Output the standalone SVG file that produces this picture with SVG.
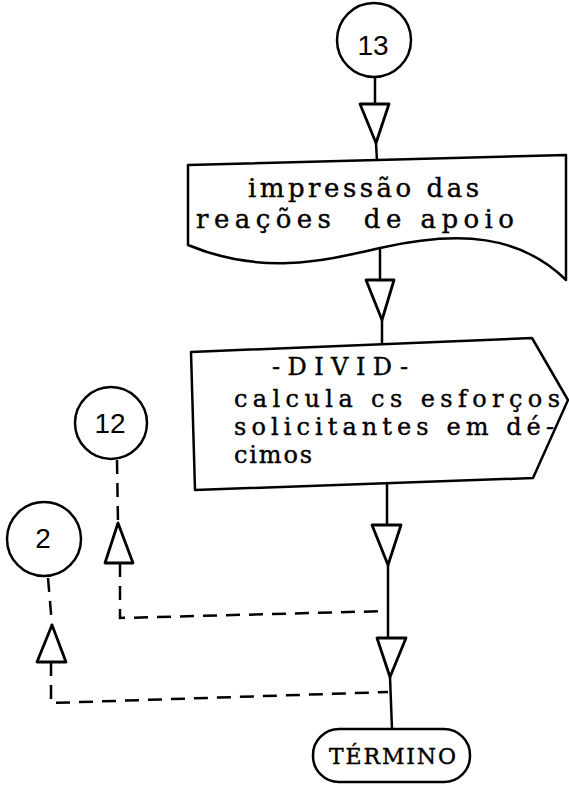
<svg xmlns="http://www.w3.org/2000/svg" width="569" height="785" viewBox="0 0 569 785">
<style>
.shape{fill:none;stroke:#000;stroke-width:2.5;stroke-linejoin:round}
.ln{fill:none;stroke:#000;stroke-width:2.5}
.dash{fill:none;stroke:#000;stroke-width:2.5;stroke-dasharray:14 9}
.arr{fill:#fff;stroke:#000;stroke-width:2.8;stroke-linejoin:round}
.t{font-family:"DejaVu Serif","Liberation Serif",serif;font-size:26px;fill:#000;stroke:#000;stroke-width:0.4}
.s{font-size:24px}
.n{font-family:"Liberation Sans",Arial,sans-serif;font-size:28px;fill:#000;text-anchor:middle}
</style>
<g id="connectors">
<line class="ln" x1="375" y1="77" x2="375" y2="104"/>
<line class="ln" x1="376" y1="143" x2="377" y2="161"/>
<line class="ln" x1="380" y1="249" x2="380" y2="280"/>
<line class="ln" x1="382" y1="320" x2="382" y2="344"/>
<line class="ln" x1="387" y1="483" x2="387" y2="525"/>
<line class="ln" x1="388" y1="565" x2="388" y2="638"/>
<line class="ln" x1="390" y1="677" x2="392" y2="729"/>
<polyline class="dash" points="117,460 118,523"/>
<polyline class="dash" points="120,563 120,618 388,611"/>
<polyline class="dash" points="48,578 52,625"/>
<polyline class="dash" points="51,662 51,703 388,692"/>
<polygon class="arr" points="360,104 389,104 376,143"/>
<polygon class="arr" points="366,280 394,280 382,320"/>
<polygon class="arr" points="372,525 401,525 388,565"/>
<polygon class="arr" points="377,638 406,638 390,677"/>
<polygon class="arr" points="118,523 105,563 133,563"/>
<polygon class="arr" points="52,625 37,662 66,662"/>
</g>
<g id="node-13">
<circle class="shape" cx="374" cy="40" r="37"/>
<text class="n" x="373" y="55">13</text>
</g>
<g id="node-impressao">
<path class="shape" d="M188,165 L566,155 L566,280 C520,235 460,230 380,248 C320,262 260,275 188,245 Z"/>
<text class="t" x="248" y="197" textLength="231" lengthAdjust="spacing">impressão das</text>
<text class="t" x="196" y="228" textLength="318" lengthAdjust="spacing" xml:space="preserve">reações  de apoio</text>
</g>
<g id="node-divid">
<polygon class="shape" points="191,352 532,338 568,400 533,478 195,490"/>
<text class="t s" x="272" y="375" textLength="136" lengthAdjust="spacing">-DIVID-</text>
<text class="t s" x="234" y="407" textLength="326" lengthAdjust="spacing">calcula cs esforços</text>
<text class="t s" x="234" y="435" textLength="320" lengthAdjust="spacing">solicitantes em dé-</text>
<text class="t s" x="234" y="463" textLength="78" lengthAdjust="spacing">cimos</text>
</g>
<g id="node-12">
<circle class="shape" cx="111" cy="423" r="36"/>
<text class="n" x="110" y="433">12</text>
</g>
<g id="node-2">
<circle class="shape" cx="44" cy="539" r="37"/>
<text class="n" x="43" y="548">2</text>
</g>
<g id="node-termino">
<rect class="shape" x="313" y="729" width="157" height="53" rx="26" ry="26"/>
<text class="t" x="329" y="764" style="font-size:22px" textLength="127" lengthAdjust="spacing">TÉRMINO</text>
</g>
</svg>
